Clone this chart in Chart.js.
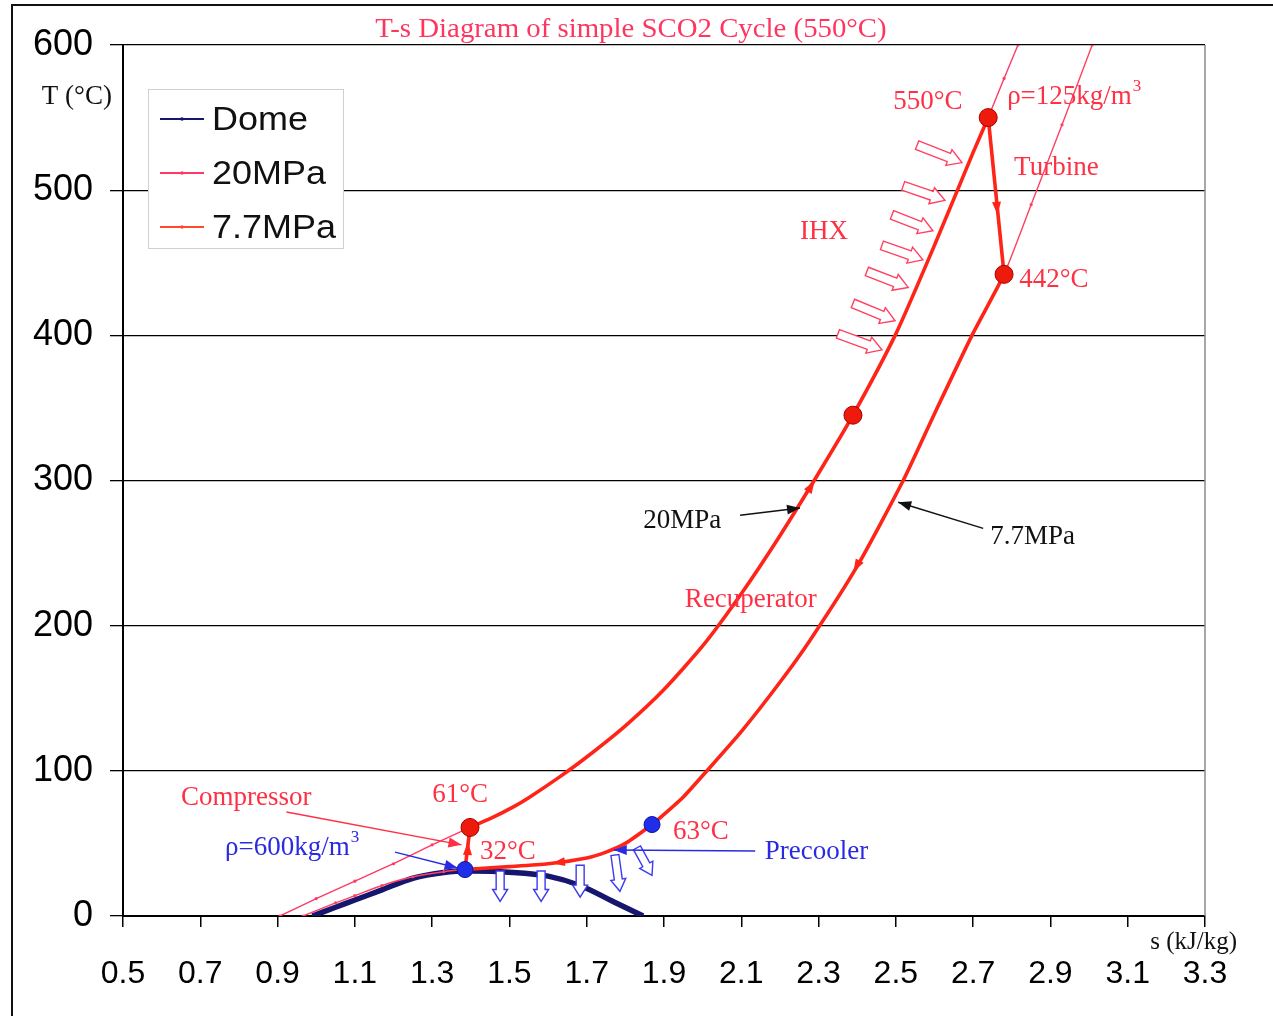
<!DOCTYPE html>
<html>
<head>
<meta charset="utf-8">
<script src="https://cdn.jsdelivr.net/npm/chart.js@4.4.1/dist/chart.umd.min.js"></script>
<style>
  html, body { margin: 0; padding: 0; background: #fff; }
  #wrap { position: relative; width: 1273px; height: 1016px; }
</style>
</head>
<body>
<div id="wrap"><canvas id="c" width="1273" height="1016"></canvas></div>
<script>
// ---- Data -----------------------------------------------------------
// Axis ticks
const xTicks = [0.5, 0.7, 0.9, 1.1, 1.3, 1.5, 1.7, 1.9, 2.1, 2.3, 2.5, 2.7, 2.9, 3.1, 3.3];
const yTicks = [0, 100, 200, 300, 400, 500, 600];

// CO2 saturation dome (s in kJ/kg·K, T in °C)
const domeS = [0.99, 1.05, 1.10, 1.17, 1.25, 1.33, 1.40, 1.51, 1.60, 1.683, 1.768, 1.846];
const domeT = [0, 6, 11, 18, 26, 30, 31, 30, 27.5, 21, 10, 0];

// 20 MPa isobar
const hpS = [0.906, 1.0, 1.1, 1.2, 1.3, 1.398, 1.45, 1.509, 1.55, 1.631, 1.7, 1.8, 1.9, 2.0, 2.1, 2.2, 2.3, 2.389, 2.5, 2.6, 2.7, 2.739, 2.78, 2.816];
const hpT = [0, 12, 24, 36, 49, 61, 67, 75, 81.5, 96, 109.5, 131, 156, 186, 222, 262, 305, 345, 401, 462, 526, 550, 577, 600];

// 7.7 MPa isobar
const lpS = [0.966, 1.05, 1.1, 1.17, 1.25, 1.33, 1.385, 1.5, 1.6, 1.7, 1.75, 1.8, 1.869, 1.9, 1.95, 2.011, 2.1, 2.2, 2.278, 2.4, 2.519, 2.6, 2.697, 2.78, 2.85, 2.93, 3.008];
const lpT = [0, 9, 14, 21, 27, 30.5, 32, 34, 36, 40, 44, 50, 63, 70, 82, 100, 127, 161, 190, 241, 300, 346, 400, 442, 490, 545, 600];

// Cycle state points: compressor in/out, IHX mid, turbine in/out, precooler in
const stateS = [1.385, 1.398, 2.389, 2.739, 2.78, 1.869];
const stateT = [32, 61, 345, 550, 442, 63];

// ---- Styling ----------------------------------------------------------
const C_CYCLE = '#ff2418';
const C_HP = '#ff3a66';
const C_LP = '#ff4a2e';
const C_NAVY = '#16166e';
const C_LBL = '#ff3044';
const C_BLUE = '#2a2ae0';
const SERIF = "'Liberation Serif', 'Times New Roman', serif";
const SANS = "'Liberation Sans', Arial, sans-serif";

const statePointColor = ['#1f2ee8', '#ee1a0c', '#ee1a0c', '#ee1a0c', '#ee1a0c', '#1f2ee8'];
const statePointRadius = [8, 9, 9, 9, 9, 8];

const zip = (xs, ys) => xs.map((x, i) => ({ x, y: ys[i] }));

// thick (cycle) portion of each isobar, bounded by the state points on it
const hpHot0 = hpT.indexOf(stateT[1]), hpHot1 = hpT.indexOf(stateT[3]);
const lpHot0 = lpT.indexOf(stateT[0]), lpHot1 = lpT.indexOf(stateT[4]);

function isobarSegments(i0, i1, thinColor) {
  return {
    borderWidth: c => (c.p0DataIndex >= i0 && c.p1DataIndex <= i1) ? 3.6 : 1.4,
    borderColor: c => (c.p0DataIndex >= i0 && c.p1DataIndex <= i1) ? C_CYCLE : thinColor
  };
}

// ---- Annotations (positions in data units) ---------------------------
const notes = [
  { t: '550°C', s: 2.493, T: 560.5, c: C_LBL },
  { t: 'ρ=125kg/m', sup: '3', s: 2.788, T: 564, c: C_LBL },
  { t: 'Turbine', s: 2.806, T: 515.5, c: C_LBL },
  { t: 'IHX', s: 2.252, T: 471, c: C_LBL },
  { t: '442°C', s: 2.819, T: 438.5, c: C_LBL },
  { t: '20MPa', s: 1.846, T: 272, c: '#111' },
  { t: '7.7MPa', s: 2.744, T: 261, c: '#111' },
  { t: 'Recuperator', s: 1.954, T: 217.5, c: C_LBL },
  { t: 'Compressor', s: 0.650, T: 81.3, c: C_LBL },
  { t: '61°C', s: 1.300, T: 83.3, c: C_LBL },
  { t: 'ρ=600kg/m', sup: '3', s: 0.764, T: 46.8, c: C_BLUE },
  { t: '32°C', s: 1.424, T: 44, c: C_LBL },
  { t: '63°C', s: 1.923, T: 57.9, c: C_LBL },
  { t: 'Precooler', s: 2.161, T: 44, c: C_BLUE },
  { t: 'T (°C)', s: 0.290, T: 564, c: '#111' },
  { t: 's (kJ/kg)', s: 3.383, T: -18, c: '#111', align: 'right', size: 25 }
];

// thin leader lines with a filled head
const pointers = [
  { from: [0.923, 71.6], to: [1.376, 49], c: C_LBL },
  { from: [1.204, 44], to: [1.366, 33], c: C_BLUE },
  { from: [2.097, 276], to: [2.252, 281], c: '#111' },
  { from: [2.726, 267], to: [2.506, 285], c: '#111' },
  { from: [2.136, 44.8], to: [1.77, 45.5], c: C_BLUE }
];

// flow-direction heads on the cycle
const flowMarks = [
  { from: [2.25, 283], to: [2.29, 300] },
  { from: [2.43, 256], to: [2.39, 237] },
  { from: [2.757, 505], to: [2.763, 483] },
  { from: [1.391, 40], to: [1.393, 51] },
  { from: [1.66, 38], to: [1.61, 36.3] }
];

// hollow heat-flow arrows
const ihxArrows = [
  [2.555, 531, 2.671, 519], [2.519, 503, 2.627, 493], [2.490, 483, 2.596, 472],
  [2.464, 462, 2.570, 452], [2.425, 444, 2.532, 433], [2.389, 422, 2.498, 410],
  [2.350, 401, 2.464, 390]
];
const coolerArrows = [
  [1.476, 31, 1.476, 10], [1.582, 31, 1.582, 10], [1.683, 35, 1.683, 13],
  [1.773, 42, 1.786, 17], [1.830, 47, 1.869, 28]
];

// ---- Drawing helpers -------------------------------------------------
function headAt(ctx, x0, y0, x1, y1, len, wid, color) {
  const a = Math.atan2(y1 - y0, x1 - x0);
  ctx.save();
  ctx.translate(x1, y1);
  ctx.rotate(a);
  ctx.beginPath();
  ctx.moveTo(0, 0);
  ctx.lineTo(-len, -wid / 2);
  ctx.lineTo(-len, wid / 2);
  ctx.closePath();
  ctx.fillStyle = color;
  ctx.fill();
  ctx.restore();
}

function hollowArrow(ctx, x0, y0, x1, y1, shaftW, headW, headL, color) {
  const len = Math.hypot(x1 - x0, y1 - y0);
  const a = Math.atan2(y1 - y0, x1 - x0);
  ctx.save();
  ctx.translate(x0, y0);
  ctx.rotate(a);
  ctx.beginPath();
  ctx.moveTo(0, -shaftW / 2);
  ctx.lineTo(len - headL, -shaftW / 2);
  ctx.lineTo(len - headL, -headW / 2);
  ctx.lineTo(len, 0);
  ctx.lineTo(len - headL, headW / 2);
  ctx.lineTo(len - headL, shaftW / 2);
  ctx.lineTo(0, shaftW / 2);
  ctx.closePath();
  ctx.fillStyle = '#fff';
  ctx.fill();
  ctx.lineWidth = 1.4;
  ctx.strokeStyle = color;
  ctx.stroke();
  ctx.restore();
}

// text with an optional horizontal stretch
function wideText(ctx, str, x, y, sx) {
  ctx.save();
  ctx.translate(x, y);
  ctx.scale(sx, 1);
  ctx.fillText(str, 0, 0);
  ctx.restore();
}

const framePlugin = {
  id: 'frame',
  beforeDraw(chart) {
    const ctx = chart.ctx;
    ctx.save();
    ctx.fillStyle = '#fff';
    ctx.fillRect(0, 0, chart.width, chart.height);
    ctx.strokeStyle = '#111';
    ctx.lineWidth = 2;
    ctx.beginPath();
    ctx.moveTo(12, 1016);
    ctx.lineTo(12, 5);
    ctx.lineTo(1273, 5);
    ctx.stroke();
    ctx.restore();
  }
};

const notesPlugin = {
  id: 'notes',
  afterDatasetsDraw(chart) {
    const ctx = chart.ctx, xs = chart.scales.x, ys = chart.scales.y;
    const px = s => xs.getPixelForValue(s), py = T => ys.getPixelForValue(T);
    const area = chart.chartArea;
    ctx.save();

    // right frame edge of the plot
    ctx.strokeStyle = '#8a8a8a';
    ctx.lineWidth = 1.5;
    ctx.beginPath();
    ctx.moveTo(area.right, area.top);
    ctx.lineTo(area.right, area.bottom);
    ctx.stroke();

    // heat-flow arrows
    ihxArrows.forEach(a => hollowArrow(ctx, px(a[0]), py(a[1]), px(a[2]), py(a[3]), 9, 17, 14, '#ff4060'));
    coolerArrows.forEach(a => hollowArrow(ctx, px(a[0]), py(a[1]), px(a[2]), py(a[3]), 8, 15, 12, '#3b3bf0'));

    // leader lines
    pointers.forEach(p => {
      const x0 = px(p.from[0]), y0 = py(p.from[1]), x1 = px(p.to[0]), y1 = py(p.to[1]);
      ctx.strokeStyle = p.c;
      ctx.lineWidth = 1.5;
      ctx.beginPath();
      ctx.moveTo(x0, y0);
      ctx.lineTo(x1, y1);
      ctx.stroke();
      headAt(ctx, x0, y0, x1, y1, 13, 10, p.c);
    });

    // flow direction marks
    flowMarks.forEach(f => headAt(ctx, px(f.from[0]), py(f.from[1]), px(f.to[0]), py(f.to[1]), 13, 9, C_CYCLE));

    // text labels
    ctx.textBaseline = 'middle';
    notes.forEach(n => {
      const size = n.size || 27;
      ctx.font = size + 'px ' + SERIF;
      ctx.fillStyle = n.c;
      ctx.textAlign = n.align || 'left';
      const x = px(n.s), y = py(n.T);
      ctx.fillText(n.t, x, y);
      if (n.sup) {
        const w = ctx.measureText(n.t).width;
        ctx.font = '17px ' + SERIF;
        ctx.textAlign = 'left';
        ctx.fillText(n.sup, x + w + 1, y - 11);
      }
    });

    // title
    ctx.font = '27px ' + SERIF;
    ctx.fillStyle = '#ff3560';
    ctx.textAlign = 'center';
    wideText(ctx, 'T-s Diagram of simple SCO2 Cycle (550°C)', 631, 30, 1.067);

    // legend
    const lx = area.left + 25, ly = area.top + 44;
    ctx.fillStyle = '#fff';
    ctx.fillRect(lx, ly, 195, 159);
    ctx.strokeStyle = '#d0d0d0';
    ctx.lineWidth = 1;
    ctx.strokeRect(lx + 0.5, ly + 0.5, 195, 159);
    const order = ['Dome', '20MPa', '7.7MPa'];
    order.forEach((lab, i) => {
      const ds = chart.data.datasets.find(d => d.label === lab);
      const yy = ly + 30 + i * 54;
      ctx.strokeStyle = ds.legendColor;
      ctx.lineWidth = 2.2;
      ctx.beginPath();
      ctx.moveTo(lx + 12, yy);
      ctx.lineTo(lx + 56, yy);
      ctx.stroke();
      ctx.fillStyle = ds.legendColor;
      ctx.beginPath();
      ctx.arc(lx + 34, yy, 1.8, 0, Math.PI * 2);
      ctx.fill();
      ctx.font = '33px ' + SANS;
      ctx.fillStyle = '#111';
      ctx.textAlign = 'left';
      wideText(ctx, lab, lx + 64, yy + 2, 1.09);
    });
    ctx.restore();
  }
};

// ---- Chart -----------------------------------------------------------
const ctx = document.getElementById('c').getContext('2d');
new Chart(ctx, {
  type: 'scatter',
  data: {
    datasets: [
      {
        label: 'State points',
        data: zip(stateS, stateT),
        pointRadius: statePointRadius,
        pointBackgroundColor: statePointColor,
        pointBorderColor: statePointColor.map(c => c === '#ee1a0c' ? '#a80000' : '#1010a0'),
        pointBorderWidth: 1,
        showLine: false
      },
      {
        label: 'Compressor',
        data: zip(stateS.slice(0, 2), stateT.slice(0, 2)),
        showLine: true, borderColor: C_CYCLE, borderWidth: 3.6, pointRadius: 0
      },
      {
        label: 'Turbine',
        data: zip(stateS.slice(3, 5), stateT.slice(3, 5)),
        showLine: true, borderColor: C_CYCLE, borderWidth: 3.6, pointRadius: 0
      },
      {
        label: '20MPa',
        legendColor: C_HP,
        data: zip(hpS, hpT),
        showLine: true, tension: 0.2,
        borderColor: C_HP, borderWidth: 1.4,
        segment: isobarSegments(hpHot0, hpHot1, C_HP),
        pointRadius: c => (c.dataIndex > hpHot0 && c.dataIndex < hpHot1) ? 0 : 1.6,
        pointBackgroundColor: C_HP, pointBorderWidth: 0
      },
      {
        label: '7.7MPa',
        legendColor: C_LP,
        data: zip(lpS, lpT),
        showLine: true, tension: 0.2,
        borderColor: '#ff4060', borderWidth: 1.4,
        segment: isobarSegments(lpHot0, lpHot1, '#ff4060'),
        pointRadius: c => (c.dataIndex > lpHot0 && c.dataIndex < lpHot1) ? 0 : 1.6,
        pointBackgroundColor: '#ff4060', pointBorderWidth: 0
      },
      {
        label: 'Dome',
        legendColor: C_NAVY,
        data: zip(domeS, domeT),
        showLine: true, tension: 0.3,
        borderColor: C_NAVY, borderWidth: 5.5, pointRadius: 0
      }
    ]
  },
  options: {
    responsive: false,
    animation: false,
    devicePixelRatio: 1,
    layout: { padding: { top: 45, right: 68, left: 0, bottom: 0 } },
    plugins: { legend: { display: false }, tooltip: { enabled: false }, title: { display: false } },
    scales: {
      x: {
        type: 'linear', min: 0.5, max: 3.3,
        afterFit: a => { a.height = 100; },
        afterBuildTicks: a => { a.ticks = xTicks.map(v => ({ value: v })); },
        grid: { drawOnChartArea: false, drawTicks: true, tickLength: 11, color: '#000', lineWidth: 1.5 },
        border: { display: true, color: '#000', width: 2 },
        ticks: {
          font: { family: SANS, size: 32 }, color: '#000', padding: 28,
          maxRotation: 0, autoSkip: false, callback: v => v.toFixed(1)
        }
      },
      y: {
        type: 'linear', min: 0, max: 600,
        afterFit: a => { a.width = 123; },
        afterBuildTicks: a => { a.ticks = yTicks.map(v => ({ value: v })); },
        grid: { color: '#000', lineWidth: 1.3, tickLength: 13 },
        border: { display: true, color: '#000', width: 2 },
        ticks: { font: { family: SANS, size: 36 }, color: '#000', padding: 17 }
      }
    }
  },
  plugins: [framePlugin, notesPlugin]
});
</script>
</body>
</html>
